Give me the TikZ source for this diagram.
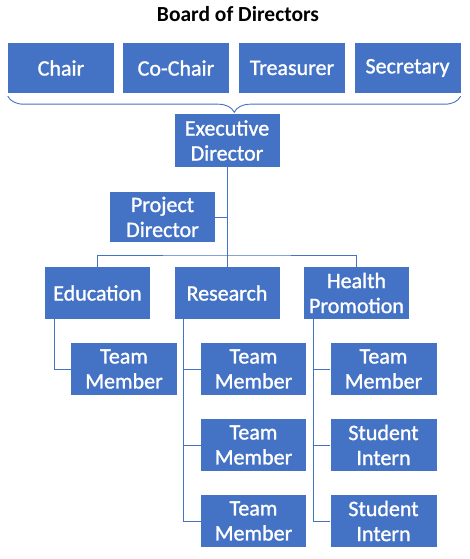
\documentclass[tikz,border=0pt]{standalone}
\usepackage{fontspec}
\setmainfont{Carlito}
\newfontfamily\boxfont[FakeBold=1.2]{Carlito}
\usetikzlibrary{decorations.pathreplacing}
\usepackage{xcolor}
\definecolor{orgblue}{HTML}{4472C4}

\begin{document}
\begin{tikzpicture}[x=1pt, y=-1pt,
  unit/.style={rectangle, fill=orgblue, text=white, align=center, minimum width=105pt, minimum height=52pt, inner sep=1pt, font=\boxfont\fontsize{22}{25}\selectfont},
  board/.style={unit, minimum width=106pt, minimum height=50pt},
  link/.style={draw=orgblue, line width=0.9pt}]
  \useasboundingbox (0,0) rectangle (469,559);
  \node[anchor=base, font=\fontsize{21.5}{25}\selectfont\bfseries] (title) at (238,22) {Board of Directors};

  % board
  \node[board] (chair) at (61,68) {Chair};
  \node[board] (cochair) at (176,68) {Co-Chair};
  \node[board] (treasurer) at (292,68) {Treasurer};
  \node[board] (secretary) at (407.5,68) {Secretary};
  \draw[link, decorate, decoration={brace, mirror, amplitude=16pt}]
    ([yshift=-3pt]chair.south west) -- ([yshift=-3pt]secretary.south east);

  \node[unit, minimum height=53pt] (exec) at (227,140.5) {Executive\\Director};
  \node[unit, minimum height=50pt] (project) at (162.5,217) {Project\\Director};

  % departments
  \node[unit] (education) at (97.5,293) {Education};
  \node[unit] (research) at (227,293) {Research};
  \node[unit] (health) at (356.5,293) {Health\\Promotion};

  \node[unit, minimum width=106pt] (eduteam) at (124,369) {Team\\Member};
  \node[unit] (resteam1) at (253.5,369) {Team\\Member};
  \node[unit] (resteam2) at (253.5,445) {Team\\Member};
  \node[unit] (resteam3) at (253.5,521) {Team\\Member};
  \node[unit, minimum width=106pt] (hpteam) at (383.5,369) {Team\\Member};
  \node[unit, minimum width=106pt] (intern1) at (383.5,445) {Student\\Intern};
  \node[unit, minimum width=106pt] (intern2) at (383.5,521) {Student\\Intern};

  % connectors
  \coordinate (bus) at (227,255);
  \coordinate (resline) at ([xshift=9pt]research.south west);
  \coordinate (hpline) at ([xshift=10pt]health.south west);
  \draw[link] (exec.south) -- (research.north);
  \draw[link] (project.east) -- (project.east -| exec.south);
  \draw[link] (education.north) |- (bus) -| (health.north);
  \draw[link] ([xshift=10pt]education.south west) |- (eduteam.west);
  \draw[link] (resline) |- (resteam3.west);
  \draw[link] (resteam1.west) -- (resteam1.west -| resline);
  \draw[link] (resteam2.west) -- (resteam2.west -| resline);
  \draw[link] (hpline) |- (intern2.west);
  \draw[link] (hpteam.west) -- (hpteam.west -| hpline);
  \draw[link] (intern1.west) -- (intern1.west -| hpline);
\end{tikzpicture}
\end{document}
